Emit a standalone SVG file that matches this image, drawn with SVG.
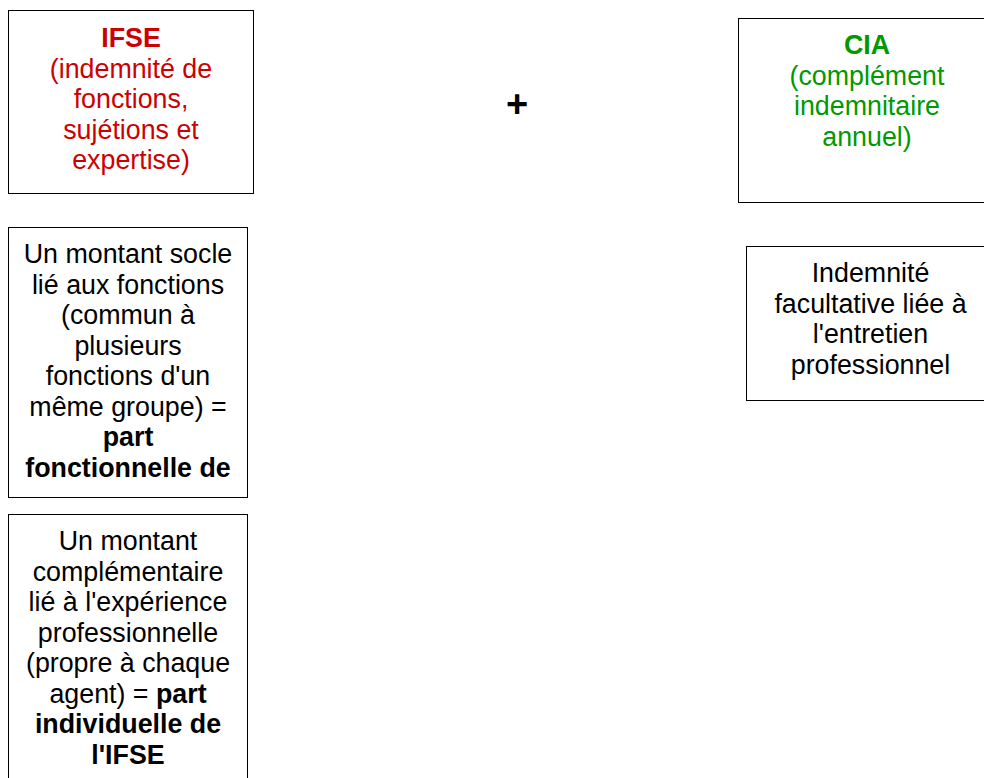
<svg xmlns="http://www.w3.org/2000/svg" width="984" height="778" viewBox="0 0 984 778">
<style>
.box{fill:#ffffff;stroke:#000000;stroke-width:1}
text{font-family:"Liberation Sans",Arial,sans-serif;font-size:26.8px;text-anchor:middle;fill:#000000}
.red{fill:#cc0000}
.green{fill:#009900}
.b{font-weight:bold}
</style>
<rect width="984" height="778" fill="#ffffff"/>
<g id="connectors"></g>
<g id="ifse">
<rect class="box" x="8.5" y="10.5" width="245" height="183"/>
<text class="red"><tspan class="b" x="131" y="47">IFSE</tspan><tspan x="131" y="77.5">(indemnité de</tspan><tspan x="131" y="108">fonctions,</tspan><tspan x="131" y="138.5">sujétions et</tspan><tspan x="131" y="169">expertise)</tspan></text>
</g>
<g id="plus">
<text class="b" x="517" y="117" style="font-size:38px">+</text>
</g>
<g id="cia">
<rect class="box" x="738.5" y="18.5" width="257" height="184"/>
<text class="green"><tspan class="b" x="867" y="54">CIA</tspan><tspan x="867" y="84.5">(complément</tspan><tspan x="867" y="115">indemnitaire</tspan><tspan x="867" y="145.5">annuel)</tspan></text>
</g>
<g id="part-fonctionnelle">
<rect class="box" x="8.5" y="227.5" width="239" height="270"/>
<text><tspan x="128" y="263">Un montant socle</tspan><tspan x="128" y="293.5">lié aux fonctions</tspan><tspan x="128" y="324">(commun à</tspan><tspan x="128" y="354.5">plusieurs</tspan><tspan x="128" y="385">fonctions d'un</tspan><tspan x="128" y="415.5">même groupe) =</tspan><tspan class="b" x="128" y="446">part</tspan><tspan class="b" x="128" y="476.5">fonctionnelle de</tspan></text>
</g>
<g id="part-individuelle">
<rect class="box" x="8.5" y="514.5" width="239" height="300"/>
<text><tspan x="128" y="550">Un montant</tspan><tspan x="128" y="580.5">complémentaire</tspan><tspan x="128" y="611">lié à l'expérience</tspan><tspan x="128" y="641.5">professionnelle</tspan><tspan x="128" y="672">(propre à chaque</tspan><tspan x="128" y="702.5">agent) = <tspan class="b">part</tspan></tspan><tspan class="b" x="128" y="733">individuelle de</tspan><tspan class="b" x="128" y="763.5">l'IFSE</tspan></text>
</g>
<g id="entretien">
<rect class="box" x="746.5" y="246.5" width="248" height="154"/>
<text><tspan x="870.5" y="282">Indemnité</tspan><tspan x="870.5" y="312.5">facultative liée à</tspan><tspan x="870.5" y="343">l'entretien</tspan><tspan x="870.5" y="373.5">professionnel</tspan></text>
</g>
</svg>
